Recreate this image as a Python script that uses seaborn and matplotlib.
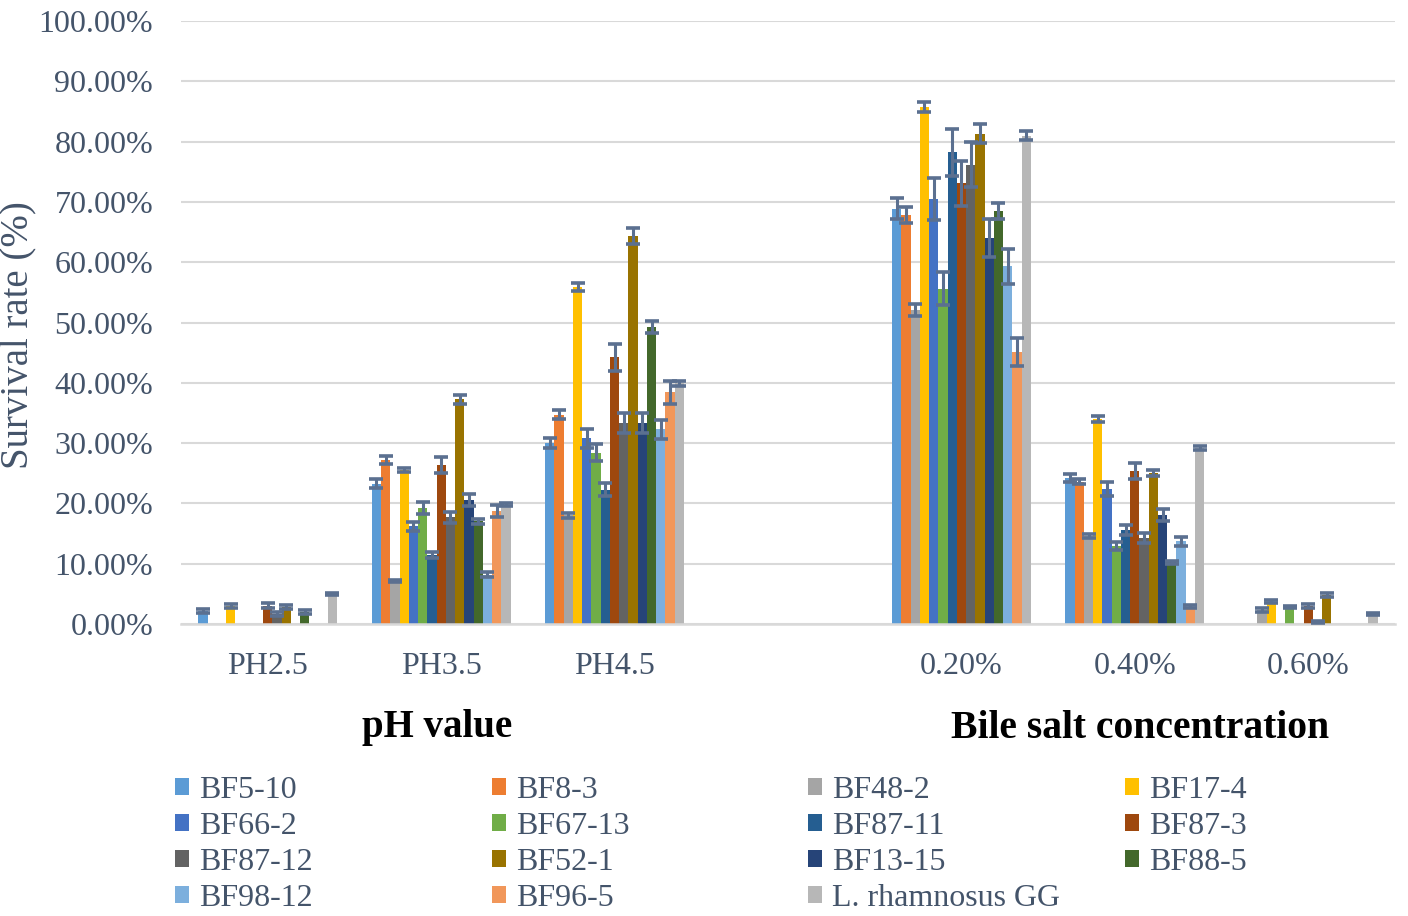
import numpy as np
import pandas as pd
import matplotlib
matplotlib.use("Agg")
import matplotlib.pyplot as plt
import seaborn as sns
from matplotlib.patches import Patch

# ---------------- data ----------------
conditions = ["PH2.5", "PH3.5", "PH4.5", "0.20%", "0.40%", "0.60%"]
axis_order = ["PH2.5", "PH3.5", "PH4.5", "", "0.20%", "0.40%", "0.60%"]
strains = ["BF5-10", "BF8-3", "BF48-2", "BF17-4", "BF66-2", "BF67-13",
           "BF87-11", "BF87-3", "BF87-12", "BF52-1", "BF13-15", "BF88-5",
           "BF98-12", "BF96-5", "L. rhamnosus GG"]

bf5_10 = [2.2, 23.3, 30.0, 68.9, 24.2, 0.0]
bf8_3 = [0.0, 27.2, 34.7, 67.8, 23.6, 0.0]
bf48_2 = [0.0, 7.1, 18.0, 52.1, 14.6, 2.3]
bf17_4 = [3.0, 25.5, 55.9, 85.7, 34.0, 3.7]
bf66_2 = [0.0, 16.2, 30.8, 70.5, 22.4, 0.0]
bf67_13 = [0.0, 19.3, 28.4, 55.6, 13.0, 2.8]
bf87_11 = [0.0, 11.5, 22.3, 78.2, 15.6, 0.0]
bf87_3 = [3.0, 26.4, 44.2, 73.1, 25.4, 3.0]
bf87_12 = [1.7, 17.7, 33.4, 76.2, 14.3, 0.3]
bf52_1 = [2.8, 37.3, 64.3, 81.3, 25.1, 4.8]
bf13_15 = [0.0, 20.5, 33.4, 64.0, 18.0, 0.0]
bf88_5 = [2.0, 17.0, 49.3, 68.5, 10.2, 0.0]
bf98_12 = [0.0, 8.2, 32.3, 59.3, 13.7, 0.0]
bf96_5 = [0.0, 18.8, 38.4, 45.1, 2.9, 0.0]
lgg = [5.0, 19.8, 39.9, 81.0, 29.2, 1.7]

err_bf5_10 = [0.3, 0.7, 0.8, 1.7, 0.65, 0.0]
err_bf8_3 = [0.0, 0.6, 0.75, 1.3, 0.45, 0.0]
err_bf48_2 = [0.0, 0.2, 0.35, 1.05, 0.3, 0.3]
err_bf17_4 = [0.3, 0.3, 0.6, 0.85, 0.45, 0.3]
err_bf66_2 = [0.0, 0.75, 1.55, 3.5, 1.15, 0.0]
err_bf67_13 = [0.0, 1.0, 1.45, 2.75, 0.65, 0.2]
err_bf87_11 = [0.0, 0.5, 1.1, 3.95, 0.8, 0.0]
err_bf87_3 = [0.4, 1.3, 2.2, 3.7, 1.35, 0.3]
err_bf87_12 = [0.3, 0.9, 1.65, 3.8, 0.85, 0.2]
err_bf52_1 = [0.3, 0.75, 1.3, 1.6, 0.5, 0.3]
err_bf13_15 = [0.0, 1.0, 1.65, 3.2, 1.0, 0.0]
err_bf88_5 = [0.3, 0.4, 1.0, 1.4, 0.2, 0.0]
err_bf98_12 = [0.0, 0.4, 1.6, 2.9, 0.75, 0.0]
err_bf96_5 = [0.0, 1.0, 1.9, 2.3, 0.2, 0.0]
err_lgg = [0.2, 0.2, 0.4, 0.8, 0.35, 0.2]

values = [bf5_10, bf8_3, bf48_2, bf17_4, bf66_2, bf67_13, bf87_11, bf87_3,
          bf87_12, bf52_1, bf13_15, bf88_5, bf98_12, bf96_5, lgg]
errors = [err_bf5_10, err_bf8_3, err_bf48_2, err_bf17_4, err_bf66_2, err_bf67_13,
          err_bf87_11, err_bf87_3, err_bf87_12, err_bf52_1, err_bf13_15, err_bf88_5,
          err_bf98_12, err_bf96_5, err_lgg]

colors = ["#5B9BD5", "#ED7D31", "#A5A5A5", "#FFC000", "#4472C4", "#70AD47",
          "#255E91", "#9E480E", "#636363", "#997300", "#264478", "#43682B",
          "#7CAFDD", "#F1975A", "#B7B7B7"]

y_ticks = [0, 10, 20, 30, 40, 50, 60, 70, 80, 90, 100]

rows = []
for s, vals, errs in zip(strains, values, errors):
    for c, v, e in zip(conditions, vals, errs):
        rows.append({"condition": c, "strain": s, "value": v, "err": e})
df = pd.DataFrame(rows)

# ---------------- style ----------------
sns.set_theme(style="white")
plt.rcParams["font.family"] = ["Liberation Serif", "DejaVu Serif"]
text_color = "#44546A"
grid_color = "#D9D9D9"
err_color = "#5B7090"

fig = plt.figure(figsize=(14.08, 9.16), dpi=100)
ax = fig.add_axes([181 / 1408, 1 - 624 / 916, 1214 / 1408, 603 / 916])

sns.barplot(data=df, x="condition", y="value", hue="strain", order=axis_order,
            hue_order=strains, palette=colors, errorbar=None, width=0.8,
            saturation=1, linewidth=0, ax=ax, legend=False, zorder=2)

# error bars, located from the bars seaborn drew
err_lookup = {(r.strain, r.condition): r.err for r in df.itertuples()}
for s, cont in zip(strains, ax.containers):
    for bar in cont.patches:
        xc = bar.get_x() + bar.get_width() / 2
        h = bar.get_height()
        idx = int(round(xc))
        cond = axis_order[idx]
        if cond == "" or np.isnan(h) or h <= 0:
            continue
        e = err_lookup[(s, cond)]
        ax.errorbar(xc, h, yerr=e, fmt="none", ecolor=err_color,
                    elinewidth=2.2, capsize=5.2, capthick=2.6, zorder=3)

ax.set_xlim(-0.5, 6.5)
ax.set_ylim(0, 100)
ax.set_yticks(y_ticks)
ax.set_yticklabels([f"{v:.2f}%" for v in y_ticks])
ax.yaxis.grid(True, color=grid_color, linewidth=1.5, zorder=0)
ax.xaxis.grid(False)
ax.set_axisbelow(True)
for side in ["top", "right", "left"]:
    ax.spines[side].set_visible(False)
ax.spines["bottom"].set_color(grid_color)
ax.spines["bottom"].set_linewidth(1.8)
ax.tick_params(axis="both", length=0, labelsize=23, labelcolor=text_color)
ax.tick_params(axis="y", pad=20)
ax.tick_params(axis="x", pad=20)

ax.set_xlabel("")
ax.set_ylabel("")
fig.text(18 / 1408, 1 - 335 / 916, "Survival rate (%)", fontsize=28,
         color=text_color, rotation=90, ha="center", va="center")

fig.text(437 / 1408, 1 - 727 / 916, "pH value", fontsize=28, fontweight="bold",
         color="black", ha="center", va="center")
fig.text(1140 / 1408, 1 - 729 / 916, "Bile salt concentration", fontsize=28.5,
         fontweight="bold", color="black", ha="center", va="center")

# legend: four columns with equal spacing, row-major order
col_x = [175, 492, 808, 1125]
for ci, x0 in enumerate(col_x):
    idxs = list(range(ci, len(strains), 4))
    handles = [Patch(facecolor=colors[i], edgecolor="none") for i in idxs]
    labels = [strains[i] for i in idxs]
    leg = fig.legend(handles, labels, loc="upper left",
                     bbox_to_anchor=(x0 / 1408, 1 - 776 / 916),
                     frameon=False, fontsize=23, handlelength=0.45,
                     handleheight=0.45, handletextpad=0.3, labelspacing=0.22,
                     borderpad=0, borderaxespad=0)
    for t in leg.get_texts():
        t.set_color(text_color)

fig.savefig("out.png", dpi=100)
